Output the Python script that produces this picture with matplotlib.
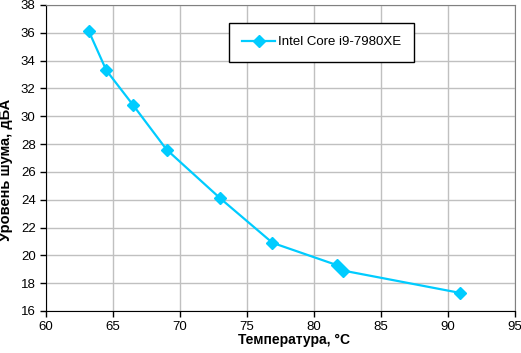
import matplotlib
matplotlib.use('Agg')
import matplotlib.pyplot as plt

temps = [63.2, 64.5, 66.5, 69.0, 73.0, 76.9, 81.7, 82.2, 90.9]
noise = [36.1, 33.3, 30.8, 27.6, 24.1, 20.9, 19.3, 18.9, 17.3]
series_name = 'Intel Core i9-7980XE'
xticks = [60, 65, 70, 75, 80, 85, 90, 95]
yticks = [16, 18, 20, 22, 24, 26, 28, 30, 32, 34, 36, 38]

plt.rcParams['font.family'] = ['Liberation Sans', 'DejaVu Sans']

fig = plt.figure(figsize=(5.21, 3.53), dpi=100)
ax = fig.add_axes([0.0883, 0.119, 0.9002, 0.867])

ax.plot(temps, noise, color='#00ccff', lw=1.6, marker='D', ms=6,
        label=series_name, zorder=3)

ax.set_xlim(60, 95)
ax.set_ylim(16, 38)
ax.set_xticks(xticks)
ax.set_yticks(yticks)
ax.grid(True, color='#c0c0c0', lw=1)
ax.set_axisbelow(True)
for s in ('top', 'right'):
    ax.spines[s].set_color('#808080')
for s in ('left', 'bottom'):
    ax.spines[s].set_color('black')
ax.tick_params(direction='out', length=4, labelsize=9.5, width=1)

ax.set_xlabel('Температура, °С', fontsize=10, fontweight='bold')
ax.set_ylabel('Уровень шума, дБА', fontsize=10.5, fontweight='bold')
ax.xaxis.set_label_coords(0.529, -0.073)
ax.yaxis.set_label_coords(-0.07, 0.461)

leg = ax.legend(loc='upper left', bbox_to_anchor=(0.390, 0.941), fancybox=False,
                edgecolor='black', framealpha=1, fontsize=9.5, handlelength=2.5,
                borderpad=1.0, handletextpad=0.2, borderaxespad=0)
leg.get_frame().set_linewidth(1)

fig.savefig('out.png', dpi=100)
